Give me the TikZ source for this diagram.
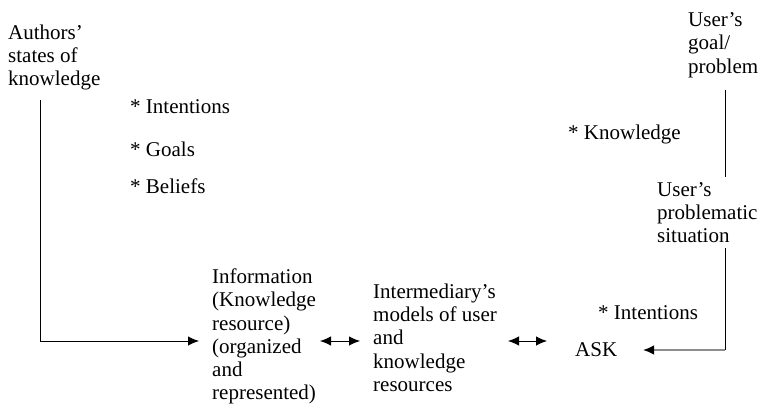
\documentclass[tikz,border=0pt]{standalone}
\usepackage{fontspec}
\setmainfont{Liberation Serif}
\usetikzlibrary{arrows.meta}
\begin{document}
\begin{tikzpicture}[x=1pt,y=-1pt,
  lbl/.style={font=\fontsize{21}{23.3}\selectfont,align=left,inner sep=0pt,anchor=north west},
  conn/.style={line width=1pt,draw=black},
  grayconn/.style={line width=1.4pt,draw=black!45},
  tip/.style={-{Latex[length=11pt,width=9.5pt,color=black]}},
  dtip/.style={{Latex[length=11pt,width=9.5pt]}-{Latex[length=11pt,width=9.5pt]}}]
\useasboundingbox (0,0) rectangle (761,413);
% texts
\node[lbl] (authors) at (8,24.5) {Authors’\\states of\\knowledge};
\node[lbl] (intL) at (130,99.5) {* Intentions};
\node[lbl] (goals) at (130,141.5) {* Goals};
\node[lbl] (beliefs) at (130,178.5) {* Beliefs};
\node[lbl] (info) at (212,268.5) {Information\\(Knowledge\\resource)\\(organized\\and\\represented)};
\node[lbl] (inter) at (373,283.5) {Intermediary’s\\models of user\\and\\knowledge\\resources};
\node[lbl] (ask) at (575,342.5) {ASK};
\node[lbl] (goal) at (688,12.5) {User’s\\goal/\\problem};
\node[lbl] (know) at (568,124.5) {* Knowledge};
\node[lbl] (sit) at (657,182) {User’s\\problematic\\situation};
\node[lbl] (intR) at (598,305) {* Intentions};
% coordinates
\coordinate (a1) at (40,100);
\coordinate (a2) at (40,341);
\coordinate (a3) at (199,341);
\coordinate (d1a) at (320,341);
\coordinate (d1b) at (360,341);
\coordinate (d2a) at (508,341);
\coordinate (d2b) at (547,341);
\coordinate (g1) at (725,90);
\coordinate (g2) at (725,177);
\coordinate (s1) at (725,248);
\coordinate (s2) at (725,350);
\coordinate (s3) at (643,350);
% connectors
\draw[conn,tip] (a1) -- (a2) -- (a3);
\draw[conn,dtip] (d1a) -- (d1b);
\draw[conn,dtip] (d2a) -- (d2b);
\draw[conn] (g1) -- (g2);
\draw[conn] (s1) -- (s2);
\draw[grayconn,tip] (s2) -- (s3);
\end{tikzpicture}
\end{document}
